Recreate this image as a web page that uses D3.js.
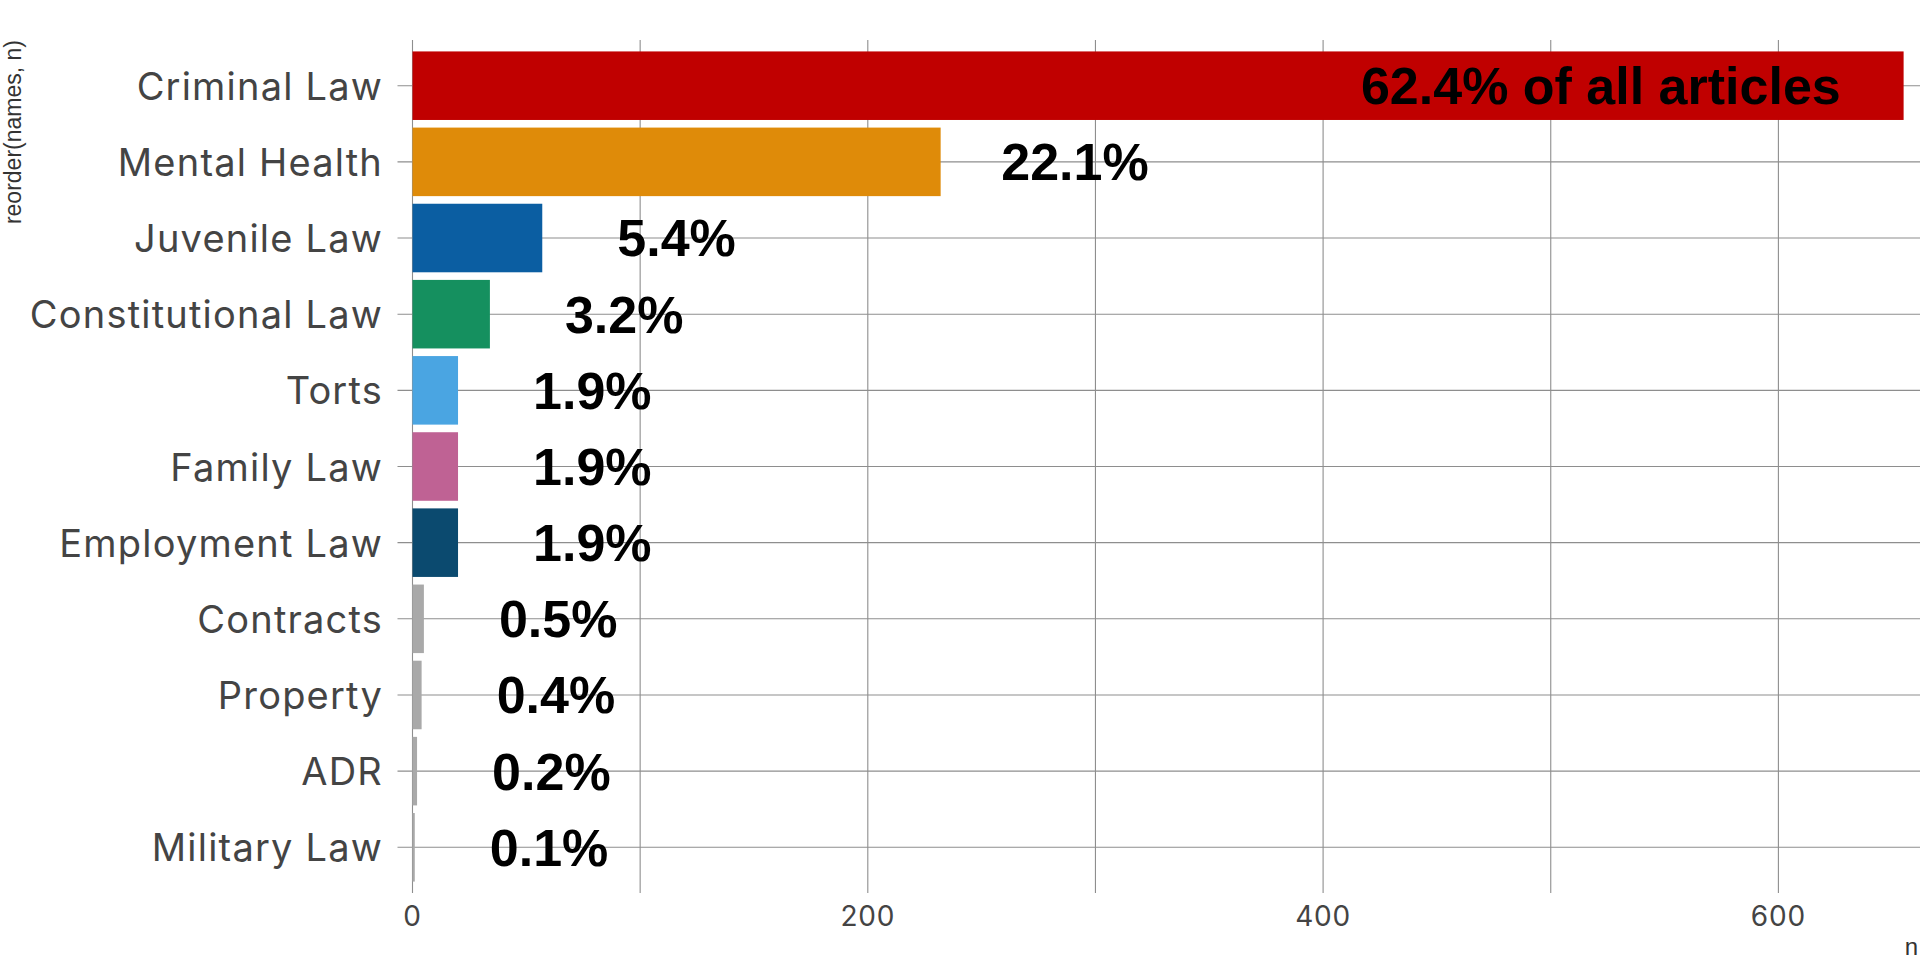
<!DOCTYPE html>
<html>
<head>
<meta charset="utf-8">
<title>Articles by area of law</title>
<script src="https://d3js.org/d3.v7.min.js"></script>
<style>
  body { margin: 0; background: #fff; }
  svg { display: block; }
</style>
</head>
<body>
<svg id="svgMain" width="1920" height="960"></svg>
<script>
// categories, top to bottom (reorder(names, n))
const names = ['Criminal Law', 'Mental Health', 'Juvenile Law', 'Constitutional Law', 'Torts',
  'Family Law', 'Employment Law', 'Contracts', 'Property', 'ADR', 'Military Law'];
// article counts
const counts = [655, 232, 57, 34, 20, 20, 20, 5, 4, 2, 1];
const barColors = ['#c00000', '#df8b09', '#0b5ea2', '#15905f', '#4aa5e2',
  '#bf6294', '#0b4a6f', '#a9a9a9', '#a9a9a9', '#a9a9a9', '#a9a9a9'];
const xTicks = [0, 200, 400, 600];
const xMinor = [100, 300, 500];

const total = d3.sum(counts);
const data = names.map((d, i) => ({ name: d, n: counts[i], color: barColors[i] }));

const svg = d3.select('svg');
const top_ = 40, bottom = 893, left = 412.5;

const xs = d3.scaleLinear().domain([0, 663]).range([left, left + 663 * 2.2765]);
const ys = d3.scaleBand().domain(names).range([top_, bottom]).paddingInner(0.1).paddingOuter(0.15);

const gridColor = '#8e8e8e';

// grid lines (behind bars)
svg.append('g')
  .selectAll('line')
  .data(xTicks.concat(xMinor))
  .enter().append('line')
    .attr('x1', d => xs(d)).attr('x2', d => xs(d))
    .attr('y1', top_).attr('y2', bottom)
    .style('stroke', gridColor).style('stroke-width', 1.1);

svg.append('g')
  .selectAll('line')
  .data(names)
  .enter().append('line')
    .attr('x1', left - 15).attr('x2', 1920)
    .attr('y1', d => ys(d) + ys.bandwidth() / 2).attr('y2', d => ys(d) + ys.bandwidth() / 2)
    .style('stroke', gridColor).style('stroke-width', 1.1);

// bars
svg.append('g')
  .selectAll('rect')
  .data(data)
  .enter().append('rect')
    .attr('x', xs(0))
    .attr('y', d => ys(d.name))
    .attr('width', d => xs(d.n) - xs(0))
    .attr('height', ys.bandwidth())
    .attr('fill', d => d.color);

// category labels
svg.append('g')
  .selectAll('text')
  .data(names)
  .enter().append('text')
    .attr('x', 383)
    .attr('y', d => ys(d) + ys.bandwidth() / 2)
    .attr('dy', '0.37em')
    .attr('text-anchor', 'end')
    .attr('font-family', 'Inter')
    .attr('font-size', 38)
    .attr('letter-spacing', 1.2)
    .style('fill', '#444')
    .text(d => d);

// x tick labels
svg.append('g')
  .selectAll('text')
  .data(xTicks)
  .enter().append('text')
    .attr('x', d => xs(d))
    .attr('y', 926)
    .attr('text-anchor', 'middle')
    .attr('font-family', 'Inter')
    .attr('font-size', 28)
    .attr('letter-spacing', 0.8)
    .style('fill', '#444')
    .text(d => d);

// percentage labels, the big one sits inside its bar
svg.append('g')
  .selectAll('text')
  .data(data)
  .enter().append('text')
    .attr('x', (d, i) => i == 0 ? xs(d.n - 133) : xs(d.n + 59))
    .attr('y', d => ys(d.name) + ys.bandwidth() / 2)
    .attr('dy', '0.355em')
    .attr('text-anchor', 'middle')
    .attr('font-family', 'Liberation Sans, Arial, sans-serif')
    .attr('font-weight', 'bold')
    .attr('font-size', 52)
    .style('fill', '#000')
    .text((d, i) => (d.n / total * 100).toFixed(1) + '%' + (i == 0 ? ' of all articles' : ''));

// axis titles
svg.append('text')
  .attr('transform', 'translate(21,40) rotate(-90)')
  .attr('text-anchor', 'end')
  .attr('font-family', 'Liberation Sans, Arial, sans-serif')
  .attr('font-size', 23)
  .style('fill', '#333')
  .text('reorder(names, n)');

svg.append('text')
  .attr('x', 1918)
  .attr('y', 955)
  .attr('text-anchor', 'end')
  .attr('font-family', 'Liberation Sans, Arial, sans-serif')
  .attr('font-size', 24)
  .style('fill', '#333')
  .text('n');
</script>
</body>
</html>
